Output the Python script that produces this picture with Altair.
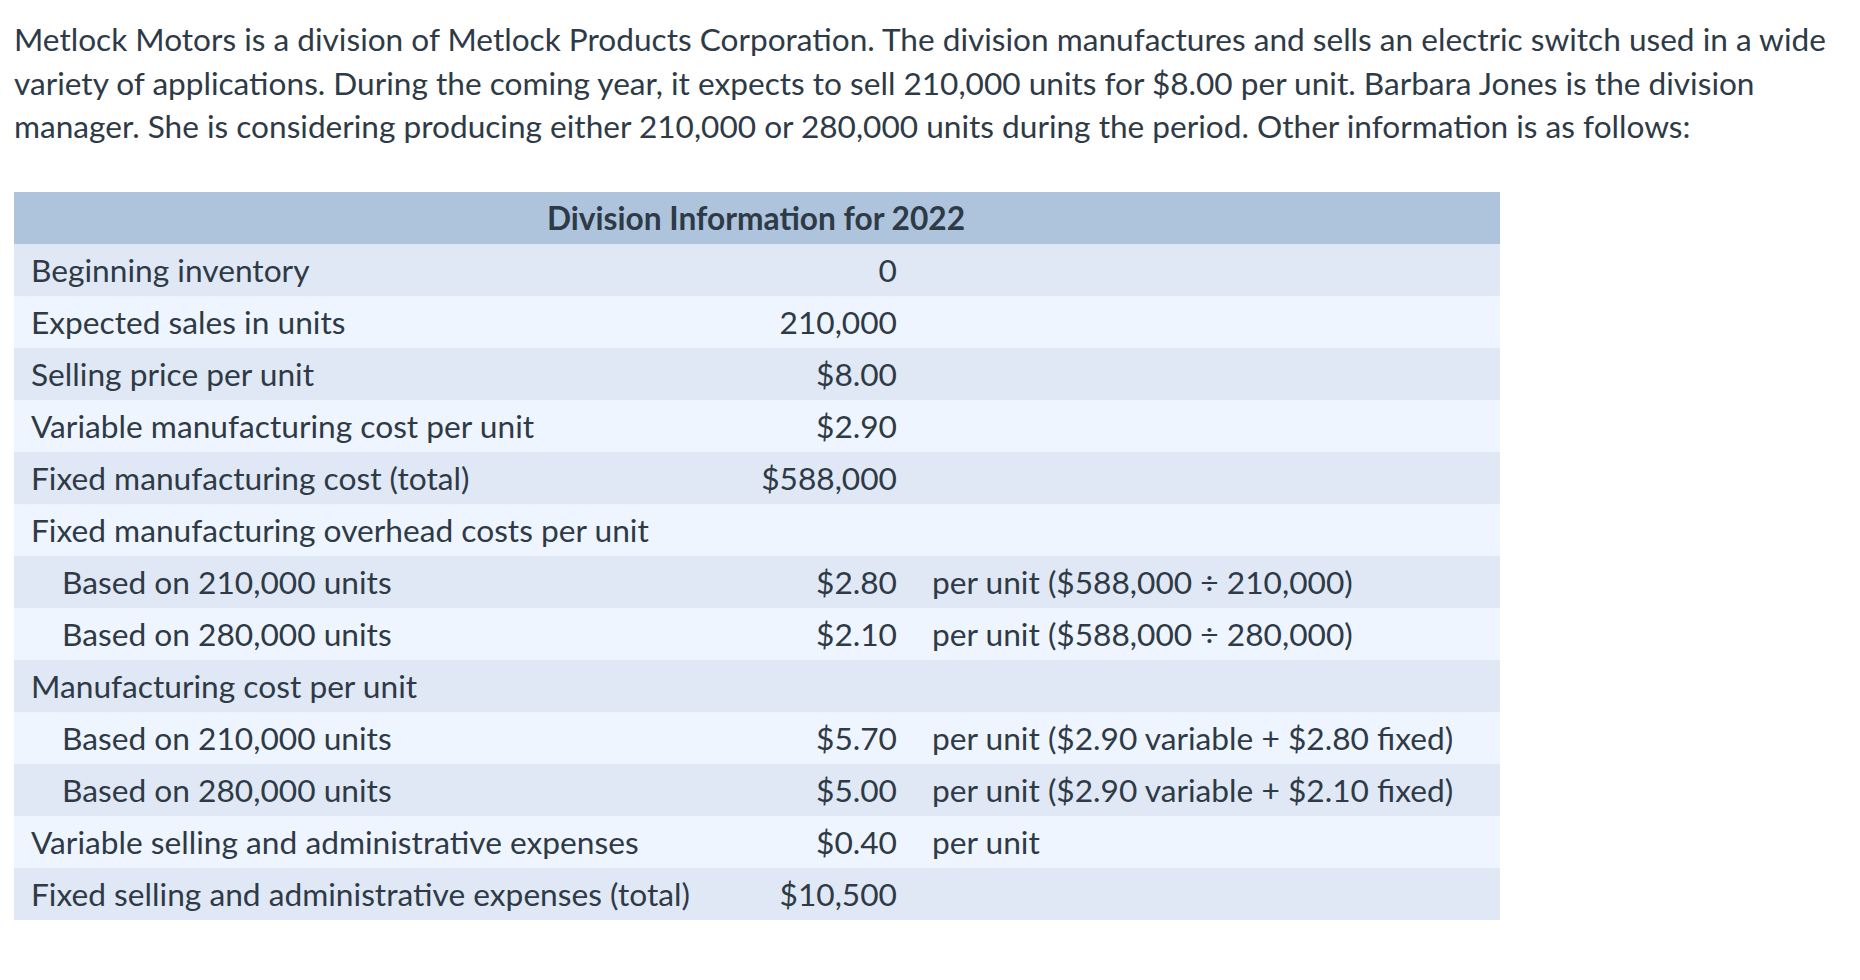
import altair as alt
import pandas as pd

paragraph_lines = [
    "Metlock Motors is a division of Metlock Products Corporation. The division manufactures and sells an electric switch used in a wide",
    "variety of applications. During the coming year, it expects to sell 210,000 units for $8.00 per unit. Barbara Jones is the division",
    "manager. She is considering producing either 210,000 or 280,000 units during the period. Other information is as follows:",
]
header_text = "Division Information for 2022"
labels = [
    "Beginning inventory",
    "Expected sales in units",
    "Selling price per unit",
    "Variable manufacturing cost per unit",
    "Fixed manufacturing cost (total)",
    "Fixed manufacturing overhead costs per unit",
    "Based on 210,000 units",
    "Based on 280,000 units",
    "Manufacturing cost per unit",
    "Based on 210,000 units",
    "Based on 280,000 units",
    "Variable selling and administrative expenses",
    "Fixed selling and administrative expenses (total)",
]
indent = [0, 0, 0, 0, 0, 0, 1, 1, 0, 1, 1, 0, 0]
values = ["0", "210,000", "$8.00", "$2.90", "$588,000", "", "$2.80", "$2.10",
          "", "$5.70", "$5.00", "$0.40", "$10,500"]
notes = ["", "", "", "", "", "",
         "per unit ($588,000 ÷ 210,000)",
         "per unit ($588,000 ÷ 280,000)",
         "",
         "per unit ($2.90 variable + $2.80 fixed)",
         "per unit ($2.90 variable + $2.10 fixed)",
         "per unit",
         ""]

FONT = "Lato"
TXT = "#2e3a46"
FS = 31.7
FS_PARA = 31.6

n = len(labels)
rows = pd.DataFrame({
    "row": list(range(n + 1)),
    "shade": ["header"] + ["dark" if i % 2 == 0 else "light" for i in range(n)],
    "label": [""] + labels,
    "indent": [0] + indent,
    "value": [""] + values,
    "note": [""] + notes,
})
para = pd.DataFrame({"line": list(range(len(paragraph_lines))), "text": paragraph_lines})
head = pd.DataFrame({"row": [0], "text": [header_text]})

W, H = 1844, 964
BASE_OFF = 38 / 52  # text baseline position inside a row, as a fraction of row height


def yscale():
    return alt.Scale(domain=[0, n + 1], range=[184, 184 + 52 * (n + 1)], zero=False, nice=False)


base = alt.Chart(rows).transform_calculate(
    row_end="datum.row + 1", row_base=f"datum.row + {BASE_OFF}"
)

bg = base.mark_rect().encode(
    x=alt.value(6), x2=alt.value(1492),
    y=alt.Y("row:Q", scale=yscale(), axis=None),
    y2="row_end:Q",
    color=alt.Color("shade:N", scale=alt.Scale(domain=["header", "dark", "light"],
                                               range=["#adc4dc", "#dfe8f4", "#eef5fe"]), legend=None),
)

lab = base.mark_text(align="left", baseline="alphabetic", font=FONT, fontSize=FS, color=TXT).encode(
    x=alt.X("indent:Q", scale=alt.Scale(domain=[0, 1], range=[23, 54]), axis=None),
    y=alt.Y("row_base:Q", scale=yscale(), axis=None),
    text="label:N",
)
val = base.mark_text(align="right", baseline="alphabetic", font=FONT, fontSize=FS, color=TXT).encode(
    x=alt.value(889),
    y=alt.Y("row_base:Q", scale=yscale(), axis=None),
    text="value:N",
)
nt = base.mark_text(align="left", baseline="alphabetic", font=FONT, fontSize=FS, color=TXT).encode(
    x=alt.value(924),
    y=alt.Y("row_base:Q", scale=yscale(), axis=None),
    text="note:N",
)
hd = alt.Chart(head).transform_calculate(row_base=f"datum.row + {BASE_OFF}").mark_text(
    align="center", baseline="alphabetic", font=FONT, fontSize=FS, fontWeight="bold", color=TXT
).encode(
    x=alt.value(748),
    y=alt.Y("row_base:Q", scale=yscale(), axis=None),
    text="text:N",
)
pt = alt.Chart(para).mark_text(align="left", baseline="alphabetic", font=FONT, fontSize=FS_PARA, color=TXT).encode(
    x=alt.value(6),
    y=alt.Y("line:Q", scale=alt.Scale(domain=[0, 2], range=[43, 130], zero=False, nice=False), axis=None),
    text="text:N",
)

chart = alt.layer(bg, lab, val, nt, hd, pt).resolve_scale(y="independent").properties(
    width=W, height=H, padding=0, autosize=alt.AutoSizeParams(type="none"), background="white"
).configure_view(stroke=None)

chart.save("out.html", embed_options={"renderer": "svg", "actions": False})
